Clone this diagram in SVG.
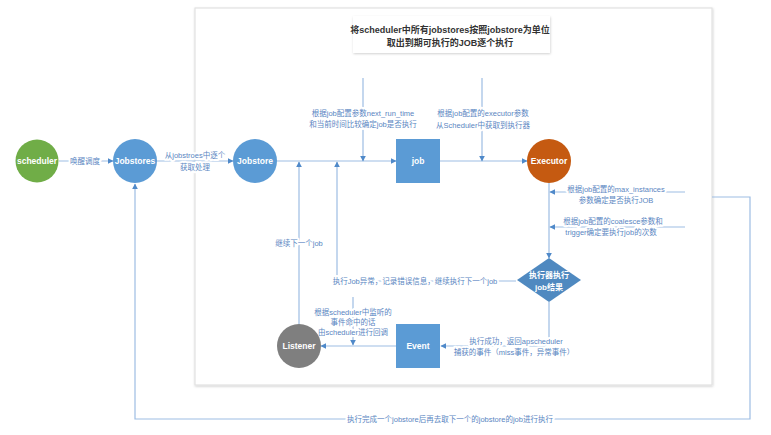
<svg xmlns="http://www.w3.org/2000/svg" width="771" height="435" viewBox="0 0 771 435">
<defs>
<marker id="ah" viewBox="0 0 10 10" refX="9" refY="5" markerWidth="6" markerHeight="6" orient="auto" markerUnits="userSpaceOnUse"><path d="M0,0 L10,5 L0,10 z" fill="#4F89C9"/></marker>
<filter id="sh" x="-5%" y="-5%" width="110%" height="115%"><feDropShadow dx="0.5" dy="1" stdDeviation="1" flood-color="#000" flood-opacity="0.18"/></filter>
</defs>
<style>
.ln{fill:none;stroke:#9DBDE3;stroke-width:1.2;marker-end:url(#ah)}
.an{font-family:"Liberation Sans","Noto Sans CJK SC",sans-serif;font-size:7.5px;fill:#5A86C2;text-anchor:middle;paint-order:stroke;stroke:#fff;stroke-width:4px;stroke-linejoin:round}
.nl{font-family:"Liberation Sans","Noto Sans CJK SC",sans-serif;font-size:8.5px;font-weight:bold;fill:#fff;text-anchor:middle}
.tt{font-family:"Liberation Sans","Noto Sans CJK SC",sans-serif;font-size:9px;font-weight:bold;fill:#333;text-anchor:middle}
</style>
<rect width="771" height="435" fill="#fff"/>
<rect id="frame" x="195" y="8" width="517" height="377" fill="#fff" stroke="#E2E2E2" stroke-width="1.2" filter="url(#sh)"/>
<g id="title">
<rect x="353" y="16" width="197" height="37" fill="#fff" filter="url(#sh)"/>
<text class="tt" x="450" y="33">将scheduler中所有jobstores按照jobstore为单位</text>
<text class="tt" x="450" y="46">取出到期可执行的JOB逐个执行</text>
</g>
<g id="connectors">
<path class="ln" d="M59,161 H113"/>
<path class="ln" d="M157,161 H233"/>
<path class="ln" d="M277,161 H396"/>
<path class="ln" d="M440,161 H527"/>
<path class="ln" d="M363,78 V161"/>
<path class="ln" d="M482,78 V161"/>
<path class="ln" d="M549,183 V258"/>
<path class="ln" d="M685,192 H550"/>
<path class="ln" d="M685,227 H550"/>
<path class="ln" d="M516,281 H337 V162"/>
<path class="ln" d="M299,324 V162"/>
<path class="ln" d="M549,302 V346 H441"/>
<path class="ln" d="M396,346 H321"/>
<path class="ln" d="M353,297 V345"/>
<path class="ln" d="M712,197 H750 V419 H135 V184"/>
<text class="an" x="85" y="164">唤醒调度</text>
<text class="an" x="195" y="158">从jobstroes中逐个</text>
<text class="an" x="195" y="170">获取处理</text>
<text class="an" x="363" y="116">根据job配置参数next_run_time</text>
<text class="an" x="363" y="127">和当前时间比较确定job是否执行</text>
<text class="an" x="483" y="116">根据job配置的executor参数</text>
<text class="an" x="483" y="128">从Scheduler中获取到执行器</text>
<text class="an" x="616" y="192">根据job配置的max_instances</text>
<text class="an" x="616" y="203">参数确定是否执行JOB</text>
<text class="an" x="613" y="224">根据job配置的coalesce参数和</text>
<text class="an" x="611" y="235">trigger确定要执行job的次数</text>
<text class="an" x="299" y="246">继续下一个job</text>
<text class="an" x="415" y="284">执行Job异常，记录错误信息，继续执行下一个job</text>
<text class="an" x="353" y="315">根据scheduler中监听的</text>
<text class="an" x="353" y="325">事件命中的话</text>
<text class="an" x="353" y="335">由scheduler进行回调</text>
<text class="an" x="516" y="344">执行成功，返回apscheduler</text>
<text class="an" x="514" y="355">捕获的事件（miss事件，异常事件）</text>
<text class="an" x="450" y="422">执行完成一个jobstore后再去取下一个的jobstore的job进行执行</text>
</g>
<g id="scheduler"><circle cx="37" cy="161" r="21.5" fill="#70AD47"/><text class="nl" x="37" y="164">scheduler</text></g>
<g id="jobstores"><circle cx="135" cy="161" r="22" fill="#5B9BD5"/><text class="nl" x="135" y="164">Jobstores</text></g>
<g id="jobstore"><circle cx="255" cy="161" r="22" fill="#5B9BD5"/><text class="nl" x="255" y="164">Jobstore</text></g>
<g id="job"><rect x="396" y="139" width="44" height="44" fill="#5B9BD5"/><text class="nl" x="418" y="164">job</text></g>
<g id="executor"><circle cx="549" cy="161" r="22" fill="#C55A11"/><text class="nl" x="549" y="164">Executor</text></g>
<g id="result"><path d="M549,258 L581,280 L549,302 L517,280 z" fill="#4F89C0"/><text class="nl" x="549" y="278" style="font-size:8px">执行器执行</text><text class="nl" x="549" y="290" style="font-size:8px">job结果</text></g>
<g id="event"><rect x="396" y="324" width="44" height="44" fill="#5B9BD5"/><text class="nl" x="418" y="349">Event</text></g>
<g id="listener"><circle cx="299" cy="346" r="22" fill="#7F7F7F"/><text class="nl" x="299" y="349">Listener</text></g>
</svg>
